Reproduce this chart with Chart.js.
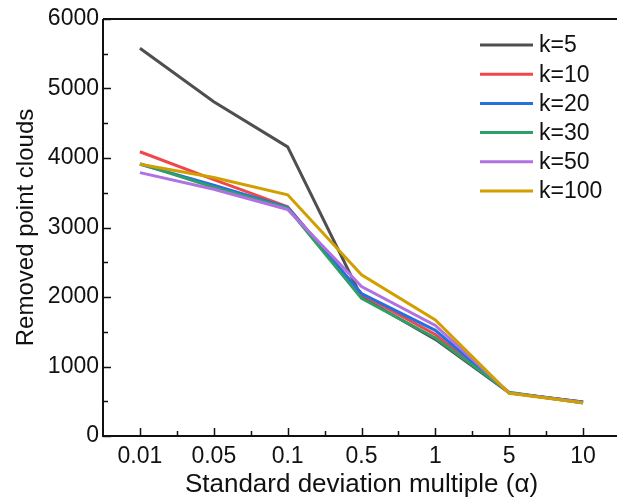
<!DOCTYPE html>
<html lang="en">
<head>
    <meta charset="UTF-8">
    <title>Removed point clouds</title>
    <script src="https://cdn.jsdelivr.net/npm/chart.js"></script>
    <style>
        html, body {
            margin: 0;
            padding: 0;
            background: #fff;
            overflow: hidden;
        }
        #wrap {
            width: 622px;
            height: 500px;
        }
    </style>
</head>
<body>
    <div id="wrap"><canvas id="grafica" width="622" height="500"></canvas></div>

    <script>
        // categorias del eje x
        const alphas = ["0.01", "0.05", "0.1", "0.5", "1", "5", "10"];
        const yTicks = [0, 1000, 2000, 3000, 4000, 5000, 6000];

        // valores
        const k5   = [5580, 4810, 4160, 2000, 1390, 620, 485];
        const k10  = [4090, 3690, 3300, 2040, 1460, 620, 490];
        const k20  = [3910, 3610, 3290, 2050, 1520, 620, 490];
        const k30  = [3920, 3580, 3280, 1980, 1410, 630, 475];
        const k50  = [3790, 3550, 3260, 2150, 1590, 620, 480];
        const k100 = [3910, 3720, 3470, 2320, 1670, 615, 480];

        const nombres = ["k=5", "k=10", "k=20", "k=30", "k=50", "k=100"];
        const colores = ["#4f4f4f", "#f0474b", "#2470e3", "#2f9e68", "#b071e3", "#d19f00"];
        const series = [k5, k10, k20, k30, k50, k100];

        const FUENTE = "'Liberation Sans', Arial, sans-serif";

        // ticks hacia dentro, borde superior y leyenda dentro del area
        const ejesPlugin = {
            id: 'ejes',
            afterDraw(chart) {
                const ctx = chart.ctx;
                const a = chart.chartArea;
                const x = chart.scales.x;
                const y = chart.scales.y;
                ctx.save();
                ctx.strokeStyle = "#111";
                ctx.lineWidth = 2;
                ctx.beginPath();
                ctx.moveTo(a.left, a.top);
                ctx.lineTo(a.right, a.top);
                ctx.moveTo(a.left, a.top);
                ctx.lineTo(a.left, a.bottom);
                ctx.lineTo(a.right, a.bottom);
                ctx.stroke();

                ctx.lineWidth = 1.5;
                ctx.beginPath();
                for (let v = 0; v <= 6000; v += 500) {
                    const py = Math.round(y.getPixelForValue(v)) + 0.5;
                    const len = v % 1000 === 0 ? 8 : 5;
                    ctx.moveTo(a.left, py);
                    ctx.lineTo(a.left + len, py);
                }
                for (let i = 0; i < alphas.length; i++) {
                    const px = Math.round(x.getPixelForValue(i)) + 0.5;
                    ctx.moveTo(px, a.bottom);
                    ctx.lineTo(px, a.bottom - 8);
                    const pm = Math.round(x.getPixelForValue(i + 0.5)) + 0.5;
                    if (i < alphas.length - 1) {
                        ctx.moveTo(pm, a.bottom);
                        ctx.lineTo(pm, a.bottom - 5);
                    }
                }
                ctx.stroke();

                // leyenda
                ctx.font = "23px " + FUENTE;
                ctx.textBaseline = "middle";
                ctx.fillStyle = "#111";
                chart.data.datasets.forEach((ds, i) => {
                    const ly = 45 + i * 29.2;
                    ctx.strokeStyle = ds.borderColor;
                    ctx.lineWidth = 3;
                    ctx.beginPath();
                    ctx.moveTo(480, ly);
                    ctx.lineTo(533, ly);
                    ctx.stroke();
                    ctx.fillText(ds.label, 539, ly + 1);
                });
                ctx.restore();
            }
        };

        const ctx = document.getElementById('grafica').getContext('2d');
        new Chart(ctx, {
            type: 'line',
            data: {
                labels: alphas,
                datasets: series.map((d, i) => ({
                    label: nombres[i],
                    data: d,
                    borderColor: colores[i],
                    backgroundColor: colores[i],
                    borderWidth: 3,
                    pointRadius: 0,
                    tension: 0,
                    fill: false,
                    order: series.length - i
                }))
            },
            options: {
                responsive: false,
                animation: false,
                layout: { padding: { top: 19, right: 2, left: 0, bottom: 0 } },
                plugins: {
                    legend: { display: false },
                    tooltip: { enabled: false }
                },
                scales: {
                    x: {
                        offset: true,
                        grid: { display: false, drawTicks: false },
                        border: { display: false },
                        ticks: {
                            color: "#111",
                            font: { family: FUENTE, size: 23 },
                            padding: 7,
                            maxRotation: 0
                        },
                        title: {
                            display: true,
                            text: "Standard deviation multiple (α)",
                            color: "#111",
                            font: { family: FUENTE, size: 26 },
                            padding: { top: 0, bottom: 0 }
                        },
                        afterFit: s => { s.height = 64; }
                    },
                    y: {
                        min: 0,
                        max: 6000,
                        afterBuildTicks: s => { s.ticks = yTicks.map(v => ({ value: v })); },
                        grid: { display: false, drawTicks: false },
                        border: { display: false },
                        ticks: {
                            color: "#111",
                            font: { family: FUENTE, size: 23 },
                            padding: 4,
                            callback: v => String(v)
                        },
                        title: {
                            display: true,
                            text: "Removed point clouds",
                            color: "#111",
                            font: { family: FUENTE, size: 24 },
                            padding: { top: 12, bottom: 2 }
                        },
                        afterFit: s => { s.width = 103; }
                    }
                }
            },
            plugins: [ejesPlugin]
        });
    </script>
</body>
</html>
